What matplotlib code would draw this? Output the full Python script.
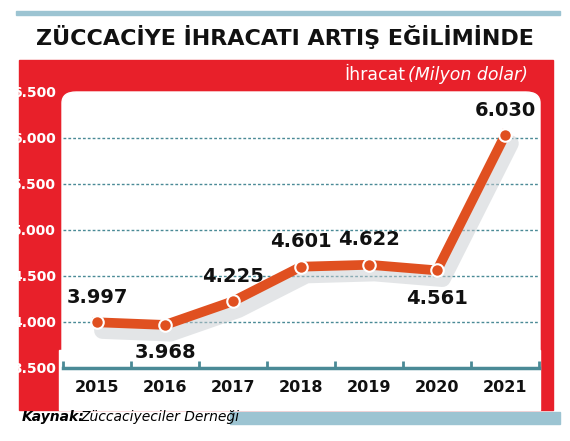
import matplotlib.pyplot as plt
from matplotlib.patches import Rectangle, FancyBboxPatch

years = ['2015', '2016', '2017', '2018', '2019', '2020', '2021']
values = [3997, 3968, 4225, 4601, 4622, 4561, 6030]
labels = ['3.997', '3.968', '4.225', '4.601', '4.622', '4.561', '6.030']
label_above = [True, False, True, True, True, False, True]
yticks = [3500, 4000, 4500, 5000, 5500, 6000, 6500]
ytick_labels = ['3.500', '4.000', '4.500', '5.000', '5.500', '6.000', '6.500']

plt.rcParams['font.family'] = ['Liberation Sans Narrow', 'DejaVu Sans']
W, H = 570, 441
RED = '#e8202a'
TEAL = '#4a8a96'
fig = plt.figure(figsize=(5.7, 4.41), dpi=100)

def fx(x): return x / W
def fy(y): return 1 - y / H

def add_rect(p):
    p.set_zorder(-10)
    fig.patches.append(p)

# top and bottom blue-gray bars
add_rect(Rectangle((fx(16), fy(15)), fx(544), 4 / H, color='#9cc4d2', transform=fig.transFigure))
add_rect(Rectangle((fx(230), fy(424)), fx(330), 12 / H, color='#9cc4d2', transform=fig.transFigure))
# red frame
add_rect(Rectangle((fx(19), fy(410)), fx(534), 350 / H, color=RED, transform=fig.transFigure))
add_rect(FancyBboxPatch((fx(62), fy(410)), fx(478), 318 / H,
                        boxstyle='round,pad=0,rounding_size=0.025',
                        color='white', transform=fig.transFigure))
add_rect(Rectangle((fx(59), fy(410)), fx(481), 60 / H, color='white', transform=fig.transFigure))

fig.text(0.5, fy(37), 'ZÜCCACİYE İHRACATI ARTIŞ EĞİLİMİNDE', ha='center', va='center',
         fontsize=16, fontweight='bold', color='#111111')
fig.text(fx(405), fy(75), 'İhracat', ha='right', va='center', fontsize=12.5, color='white')
fig.text(fx(408), fy(75), '(Milyon dolar)', ha='left', va='center', fontsize=12.5,
         color='white', style='italic')
fig.text(fx(22), fy(417), 'Kaynak:', ha='left', va='center', fontsize=10,
         fontweight='bold', style='italic')
fig.text(fx(80), fy(417), 'Züccaciyeciler Derneği', ha='left', va='center', fontsize=10,
         style='italic')

ax = fig.add_axes([fx(63), fy(368), fx(476), 276 / H])
ax.set_facecolor('none')
x = range(len(years))
ax.set_xlim(-0.5, 6.5)
ax.set_ylim(3500, 6500)
for v in yticks[1:-1]:
    ax.axhline(v, color=TEAL, lw=1, ls=(0, (2, 1.5)), zorder=1)
# shadow
ax.plot([i + 0.08 for i in x], [v - 90 for v in values], color='#c8ccd0', lw=12,
        alpha=0.5, solid_capstyle='round', zorder=2)
ax.plot(x, values, color='#e05020', lw=7, solid_joinstyle='round', zorder=3)
ax.plot(x, values, 'o', ms=9, mfc='#e05020', mec='white', mew=1.5, zorder=4)
for i, (v, lab, up) in enumerate(zip(values, labels, label_above)):
    ax.annotate(lab, (i, v), xytext=(0, 18 if up else -20), textcoords='offset points',
                ha='center', va='center', fontsize=14, fontweight='bold', color='#111111')

ax.set_xticks([i + 0.5 for i in range(-1, 7)])
ax.set_xticklabels([])
ax.tick_params(axis='x', which='major', length=5, color=TEAL, width=2, direction='in')
ax.set_xticks(list(x), minor=True)
ax.set_xticklabels(years, minor=True, fontsize=11.5, fontweight='bold', color='#111111')
ax.tick_params(axis='x', which='minor', length=0, pad=9)
ax.set_yticks(yticks)
ax.set_yticklabels(ytick_labels, fontsize=10, fontweight='bold', color='white')
ax.tick_params(axis='y', length=0, pad=5)
for s in ['top', 'right', 'left']:
    ax.spines[s].set_visible(False)
ax.spines['bottom'].set_color(TEAL)
ax.spines['bottom'].set_linewidth(2.5)

fig.savefig('out.png', dpi=100)
